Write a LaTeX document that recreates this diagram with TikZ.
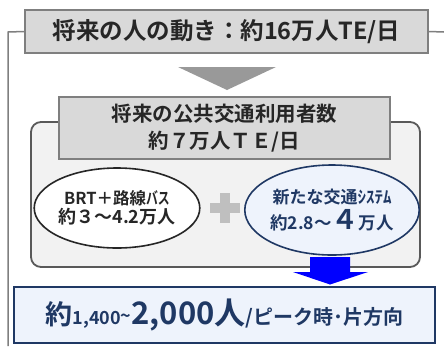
\documentclass[tikz,border=0pt]{standalone}
\usepackage{fontspec}
\setmainfont{Noto Sans CJK JP Bold}
\usetikzlibrary{shapes.geometric}
\definecolor{boxgray}{HTML}{D9D9D9}
\definecolor{edgegray}{HTML}{7F7F7F}
\definecolor{panel}{HTML}{F2F2F2}
\definecolor{darkedge}{HTML}{595959}
\definecolor{navy}{HTML}{1F3864}
\definecolor{paleblue}{HTML}{EEF3FC}
\definecolor{txt}{HTML}{262626}
\tikzset{
  graybox/.style={draw=edgegray, line width=1.5pt, fill=boxgray, inner sep=0pt, align=center, text=txt},
  ell/.style={ellipse, line width=1.6pt, inner sep=0pt, align=center},
}
\begin{document}
\begin{tikzpicture}[x=1pt,y=-1pt]
\useasboundingbox (0,0) rectangle (444,346);
% bracket line
\coordinate (bl) at (8,32);
\coordinate (bb) at (8,346);
\coordinate (br) at (444,32);
% panel
\node[draw=darkedge, line width=1.8pt, fill=panel, rounded corners=10pt, minimum width=389pt, minimum height=145pt] (panel) at (225.5,194.5) {};
% top box
\node[graybox, minimum width=403pt, minimum height=43pt, font=\fontsize{23.5}{24}\selectfont] (top) at (226.5,31.5) {将来の人の動き：約16万人TE/日};
\draw[edgegray, line width=1.5pt] (top.west) -- (bl) -- (bb);
\draw[edgegray, line width=1.5pt] (top.east) -- (br);
% triangle
\fill[fill=edgegray!80] (178,67) -- (276,67) -- (227,90) -- cycle;
% header 2
\node[graybox, minimum width=331pt, minimum height=62pt, font=\fontsize{20.5}{27}\selectfont] (head) at (224.5,128) {将来の公共交通利用者数\\約７万人ＴＥ/日};
% ellipses
\node[ell, draw=black!85, fill=white, minimum width=160pt, minimum height=80pt, text=txt] (lel) at (117,208)
  {{\fontsize{16.5}{20}\selectfont BRT＋路線\scalebox{0.72}[1]{バス}}\\[1pt]{\fontsize{18}{20}\selectfont 約３～4.2万人}};
\node[ell, draw=navy, fill=paleblue, minimum width=158pt, minimum height=90pt, text=navy] (rel) at (332,210)
  {{\fontsize{17}{20}\selectfont 新たな交通ｼｽﾃﾑ}\\[4pt]{\fontsize{17.5}{20}\selectfont 約2.8～{\fontsize{27}{26}\selectfont ４}万人}};
% plus
\node[inner sep=0pt] (plus) at (225,208) {};
\fill[black!25] ([xshift=-15pt,yshift=-5pt]plus.center) rectangle ([xshift=15pt,yshift=5pt]plus.center);
\fill[black!25] ([xshift=-5pt,yshift=-15pt]plus.center) rectangle ([xshift=5pt,yshift=15pt]plus.center);
% bottom box
\node[draw=navy, line width=2pt, fill=paleblue, minimum width=421pt, minimum height=56pt, inner sep=0pt, text=navy] (bot) at (224.5,315)
  {{\fontsize{27}{28}\selectfont 約}{\fontsize{18}{20}\selectfont 1,400\raisebox{2pt}{\textasciitilde}}{\fontsize{31}{30}\selectfont 2,000人}{\fontsize{20}{20}\selectfont /ピーク時･片方向}};
% blue arrow
\fill[blue] (310,257) -- (350,257) -- (350,272) -- (368,272) -- (330,284.5) -- (293,272) -- (310,272) -- cycle;
\end{tikzpicture}
\end{document}
